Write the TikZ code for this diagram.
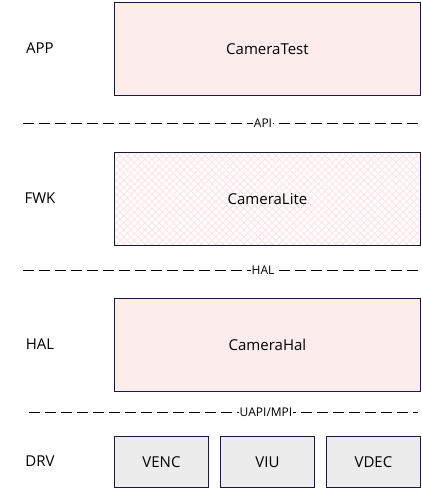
\documentclass[tikz,border=0pt]{standalone}
\usepackage{fontspec}
\setmainfont{Open Sans}
\usetikzlibrary{patterns.meta}
\definecolor{boxpink}{RGB}{253,236,236}
\definecolor{hatchpink}{RGB}{253,228,228}
\definecolor{boxgray}{RGB}{236,236,236}
\definecolor{edge}{RGB}{26,26,62}
\tikzset{
  x=1pt,y=-1pt,
  layer/.style={draw=edge,line width=0.9pt,fill=boxpink,minimum width=306pt,minimum height=93pt,anchor=north west,inner sep=0pt,font=\fontsize{15}{17}\selectfont},
  drvbox/.style={draw=edge,line width=0.9pt,fill=boxgray,minimum width=94pt,minimum height=51pt,anchor=north west,inner sep=0pt,font=\fontsize{15}{17}\selectfont},
  lvl/.style={font=\fontsize{15}{17}\selectfont,anchor=center},
  sep/.style={draw=black,line width=0.85pt,dash pattern=on 11pt off 5pt},
  seplabel/.style={fill=white,inner sep=1pt,font=\fontsize{12}{14}\selectfont}
}
\begin{document}
\begin{tikzpicture}
\useasboundingbox (0,0) rectangle (421,488);
% layer boxes
\node[layer] (test) at (114,2) {CameraTest};
\node[layer,fill=white,postaction={pattern={Lines[angle=45,distance=5pt,line width=0.9pt]},pattern color=hatchpink},postaction={pattern={Lines[angle=-45,distance=5pt,line width=0.9pt]},pattern color=hatchpink}] (lite) at (114,152) {};
\node[font=\fontsize{15}{17}\selectfont] (litelabel) at (lite.center) {CameraLite};
\draw[draw=edge,line width=0.9pt] (lite.north west) rectangle (lite.south east);
\node[layer] (hal) at (114,298) {CameraHal};
\node[drvbox] (venc) at (114,436) {VENC};
\node[drvbox] (viu) at (220,436) {VIU};
\node[drvbox] (vdec) at (326,436) {VDEC};
% level labels
\node[lvl] (app) at (40,48) {APP};
\node[lvl] (fwk) at (40,198) {FWK};
\node[lvl] (hall) at (40,344) {HAL};
\node[lvl] (drv) at (40,461) {DRV};
% separators
\coordinate (a1) at (23,123); \coordinate (a2) at (418,123);
\coordinate (h1) at (23,270); \coordinate (h2) at (418,270);
\coordinate (u1) at (29,412); \coordinate (u2) at (418,412);
\draw[sep] (a1) -- (a2);
\draw[sep] (h1) -- (h2);
\draw[sep] (u1) -- (u2);
\node[seplabel] (api) at (263,123) {API};
\node[seplabel] (hallab) at (263,270) {HAL};
\node[seplabel] (uapi) at (266,412) {UAPI/MPI};
\end{tikzpicture}
\end{document}
